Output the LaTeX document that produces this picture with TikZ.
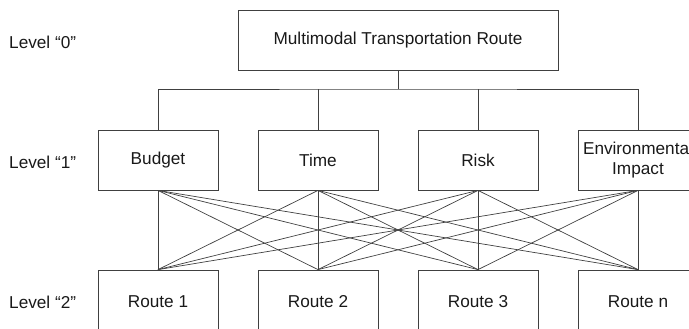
\documentclass[tikz,border=0pt]{standalone}
\usepackage{fontspec}
\setmainfont{Liberation Sans}
\begin{document}
\begin{tikzpicture}[x=1pt,y=-1pt,
  every node/.style={font=\fontsize{17.2}{20}\selectfont, text=black!90},
  box/.style={draw=black!75, line width=0.8pt, minimum width=120pt, minimum height=60pt, inner sep=0pt, align=center},
  wire/.style={draw=black!75, line width=0.7pt},
  lvl/.style={anchor=west, inner sep=0pt}]
\clip (0,0) rectangle (689,329);
\useasboundingbox (0,0) rectangle (689,329);

% level labels
\node[lvl] (lab0) at (9,42) {Level “0”};
\node[lvl] (lab1) at (9,162) {Level “1”};
\node[lvl] (lab2) at (9,302) {Level “2”};

% goal
\node[box, minimum width=320pt] (goal) at (398,40) {Multimodal Transportation Route};

% criteria
\node[box] (c1) at (158,160) {Budget};
\node[box] (c2) at (318,160) {Time};
\node[box] (c3) at (478,160) {Risk};
\node[box] (c4) at (638,160) {Environmental\\Impact};

% alternatives
\node[box, minimum height=64pt] (r1) at (158,302) {Route 1};
\node[box, minimum height=64pt] (r2) at (318,302) {Route 2};
\node[box, minimum height=64pt] (r3) at (478,302) {Route 3};
\node[box, minimum height=64pt] (r4) at (638,302) {Route n};

% tree from goal to criteria
\coordinate (bus) at (398,89);
\draw[wire] (goal.south) -- (bus);
\draw[wire] (c1.north) |- (bus) -| (c4.north);
\draw[wire] (c2.north) -- (c2.north |- bus);
\draw[wire] (c3.north) -- (c3.north |- bus);

% every criterion to every alternative
\foreach \c in {c1,c2,c3,c4}
  \foreach \r in {r1,r2,r3,r4}
    \draw[wire] (\c.south) -- (\r.north);
\end{tikzpicture}
\end{document}
